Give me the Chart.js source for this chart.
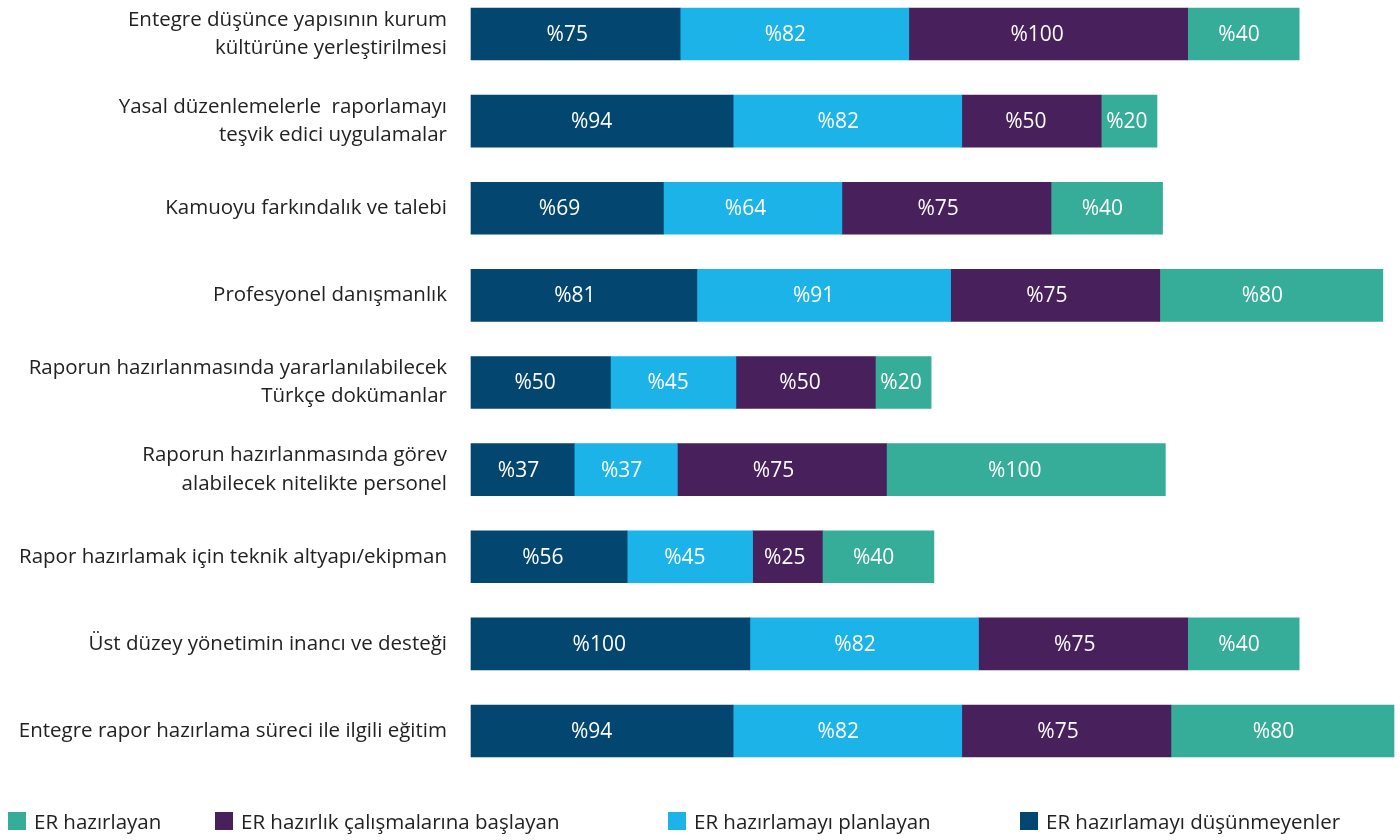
<!DOCTYPE html>
<html>
<head>
<meta charset="utf-8">
<script src="https://cdn.jsdelivr.net/npm/chart.js@4"></script>
<style>
  body { margin: 0; background: #fff; }
  #wrap { position: relative; width: 1400px; height: 840px; }
  #legend { position: absolute; left: 8px; top: 807px; display: flex; font-family: "Open Sans", sans-serif; font-size: 20.5px; color: #222; }
  #legend div { display: flex; align-items: center; }
  #legend span.box { display: inline-block; width: 18px; height: 18px; margin-right: 8px; }
</style>
</head>
<body>
<div id="wrap">
  <canvas id="barChart" width="1400" height="840"></canvas>
  <div id="legend"></div>
</div>
<script>
const categories = [
    ["Entegre düşünce yapısının kurum", "kültürüne yerleştirilmesi"],
    ["Yasal düzenlemelerle  raporlamayı", "teşvik edici uygulamalar"],
    "Kamuoyu farkındalık ve talebi",
    "Profesyonel danışmanlık",
    ["Raporun hazırlanmasında yararlanılabilecek", "Türkçe dokümanlar"],
    ["Raporun hazırlanmasında görev", "alabilecek nitelikte personel"],
    "Rapor hazırlamak için teknik altyapı/ekipman",
    "Üst düzey yönetimin inancı ve desteği",
    "Entegre rapor hazırlama süreci ile ilgili eğitim"
];

const dusunmeyenler = [75, 94, 69, 81, 50, 37, 56, 100, 94];
const planlayan = [82, 82, 64, 91, 45, 37, 45, 82, 82];
const baslayan = [100, 50, 75, 75, 50, 75, 25, 75, 75];
const hazirlayan = [40, 20, 40, 80, 20, 100, 40, 40, 80];

const seriesNames = [
    "ER hazırlamayı düşünmeyenler",
    "ER hazırlamayı planlayan",
    "ER hazırlık çalışmalarına başlayan",
    "ER hazırlayan"
];
const colors = ["#03466f", "#1bb3e8", "#48205c", "#36ad98"];

// white "%value" labels inside each bar segment
const barLabels = {
    id: "barLabels",
    afterDatasetsDraw(chart) {
        const ctx = chart.ctx;
        ctx.save();
        ctx.font = "21px 'Open Sans', sans-serif";
        ctx.fillStyle = "#ffffff";
        ctx.textAlign = "center";
        ctx.textBaseline = "middle";
        chart.data.datasets.forEach((ds, i) => {
            chart.getDatasetMeta(i).data.forEach((bar, j) => {
                const w = bar.x - bar.base;
                const cx = (bar.base + bar.x) / 2 - w * 0.04;
                ctx.fillText("%" + ds.data[j], cx, bar.y + 1);
            });
        });
        ctx.restore();
    }
};

const series = [dusunmeyenler, planlayan, baslayan, hazirlayan];

const chart = new Chart(document.getElementById("barChart"), {
    type: "bar",
    data: {
        labels: categories,
        datasets: series.map((d, i) => ({
            label: seriesNames[i],
            data: d,
            backgroundColor: colors[i],
            barThickness: 52,
            clip: false
        }))
    },
    options: {
        indexAxis: "y",
        responsive: false,
        animation: false,
        layout: { padding: { top: 34, bottom: 109, right: 6, left: 0 } },
        plugins: {
            legend: { display: false },
            tooltip: { enabled: false }
        },
        scales: {
            x: {
                stacked: true,
                min: 0,
                max: 331,
                display: false
            },
            y: {
                stacked: true,
                offset: false,
                grid: { display: false, drawTicks: false },
                border: { display: false },
                afterFit(scale) {
                    scale.width = 471;
                    scale.paddingTop = 0;
                    scale.paddingBottom = 0;
                },
                ticks: {
                    padding: 24,
                    color: "#222",
                    font: { family: "'Open Sans', sans-serif", size: 20.5, lineHeight: 1.38 }
                }
            }
        }
    },
    plugins: [barLabels]
});

const legendEl = document.getElementById("legend");
const legendWidths = [207, 453, 352, 330];
[3, 2, 1, 0].forEach((i, k) => {
    const item = document.createElement("div");
    item.style.width = legendWidths[k] + "px";
    item.innerHTML = '<span class="box" style="background:' + colors[i] + '"></span>' + seriesNames[i];
    legendEl.appendChild(item);
});
</script>
</body>
</html>
